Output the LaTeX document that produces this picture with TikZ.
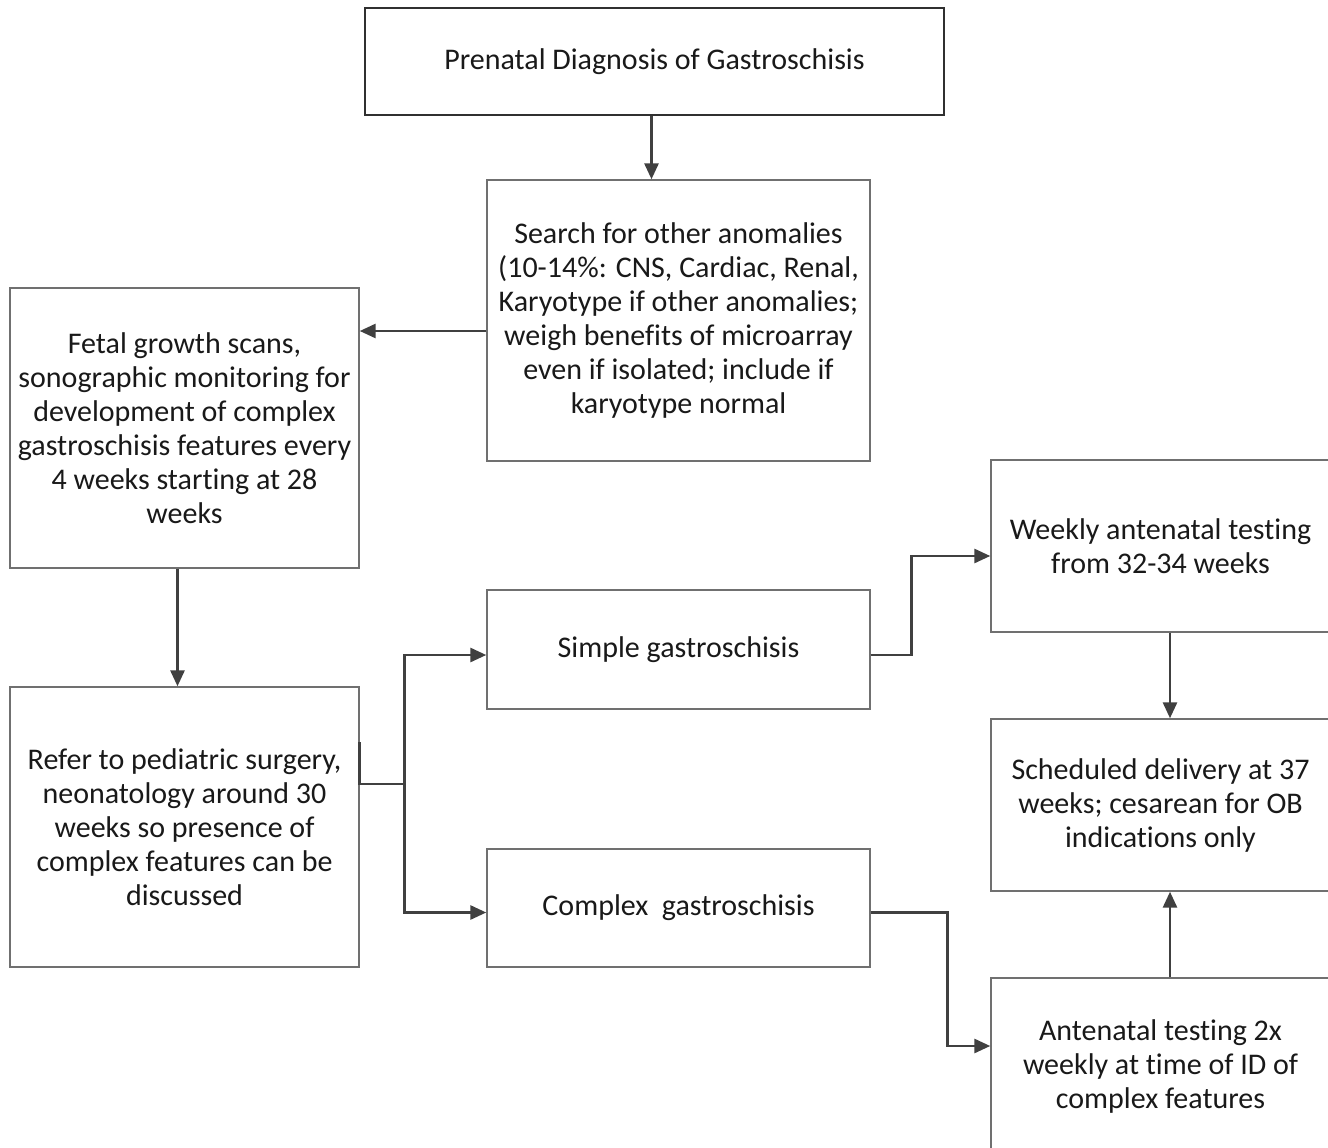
\documentclass[tikz,border=0pt]{standalone}
\usepackage{fontspec}
\setmainfont{Carlito}[Ligatures=NoCommon]
\usetikzlibrary{arrows.meta}
\definecolor{boxgray}{HTML}{707070}
\definecolor{boxdark}{HTML}{303030}
\definecolor{arrgray}{HTML}{404040}
\begin{document}
\begin{tikzpicture}[x=1pt,y=-1pt,
  box/.style={draw=boxgray, line width=1.4pt, inner sep=0pt, align=center,
    font=\fontsize{30}{34}\selectfont, text=black!90},
  ln/.style={draw=arrgray, line width=2.8pt},
  arr/.style={ln, -{Triangle[length=16pt,width=14pt]}}]
\clip (0,0) rectangle (1328,1148);
\fill[white] (0,0) rectangle (1328,1148);

\node[box, draw=boxdark, minimum width=579pt, minimum height=107pt] (p) at (654.5,61.5)
  {Prenatal Diagnosis of Gastroschisis};
\node[box, minimum width=383pt, minimum height=281pt] (se) at (678.5,320.5)
  {Search for other anomalies\\(10-14\%: CNS, Cardiac, Renal,\\Karyotype if other anomalies;\\weigh benefits of microarray\\even if isolated; include if\\karyotype normal};
\node[box, minimum width=349pt, minimum height=280pt] (fg) at (184.5,428)
  {Fetal growth scans,\\sonographic monitoring for\\development of complex\\gastroschisis features every\\4 weeks starting at 28\\weeks};
\node[box, minimum width=349pt, minimum height=280pt] (rf) at (184.5,827)
  {Refer to pediatric surgery,\\neonatology around 30\\weeks so presence of\\complex features can be\\discussed};
\node[box, minimum width=383pt, minimum height=119pt] (si) at (678.5,649.5)
  {Simple gastroschisis};
\node[box, minimum width=383pt, minimum height=118pt] (co) at (678.5,908)
  {Complex\ \ gastroschisis};
\node[box, minimum width=339pt, minimum height=172pt] (wk) at (1160.5,546)
  {Weekly antenatal testing\\from 32-34 weeks};
\node[box, minimum width=339pt, minimum height=172pt] (sd) at (1160.5,805)
  {Scheduled delivery at 37\\weeks; cesarean for OB\\indications only};
\node[box, minimum width=339pt, minimum height=176pt] (an) at (1160.5,1066)
  {Antenatal testing 2x\\weekly at time of ID of\\complex features};

\draw[arr] ([xshift=-3pt]p.south) -- ([xshift=-3pt]p.south |- se.north);
\draw[arr] ([yshift=-10.5pt]se.west) -- ([yshift=-10.5pt]se.west -| fg.east);
\draw[arr] ([xshift=-7pt]fg.south) -- ([xshift=-7pt]rf.north);
\draw[ln] ([yshift=85pt]rf.east) -- ([yshift=43pt]rf.east) -- ++(45,0) coordinate (j);
\draw[arr] (j) |- ([yshift=-5.5pt]si.west);
\draw[arr] (j) |- ([yshift=-4.5pt]co.west);
\draw[arr] ([yshift=-5.5pt]si.east) -- ++(41,0) |- ([yshift=-10pt]wk.west);
\draw[arr] ([yshift=-4.5pt]co.east) -- ++(77,0) |- ([yshift=20pt]an.west);
\draw[arr] ([xshift=9.5pt]wk.south) -- ([xshift=9.5pt]sd.north);
\draw[arr] ([xshift=9.5pt]an.north) -- ([xshift=9.5pt]sd.south);
\end{tikzpicture}
\end{document}
